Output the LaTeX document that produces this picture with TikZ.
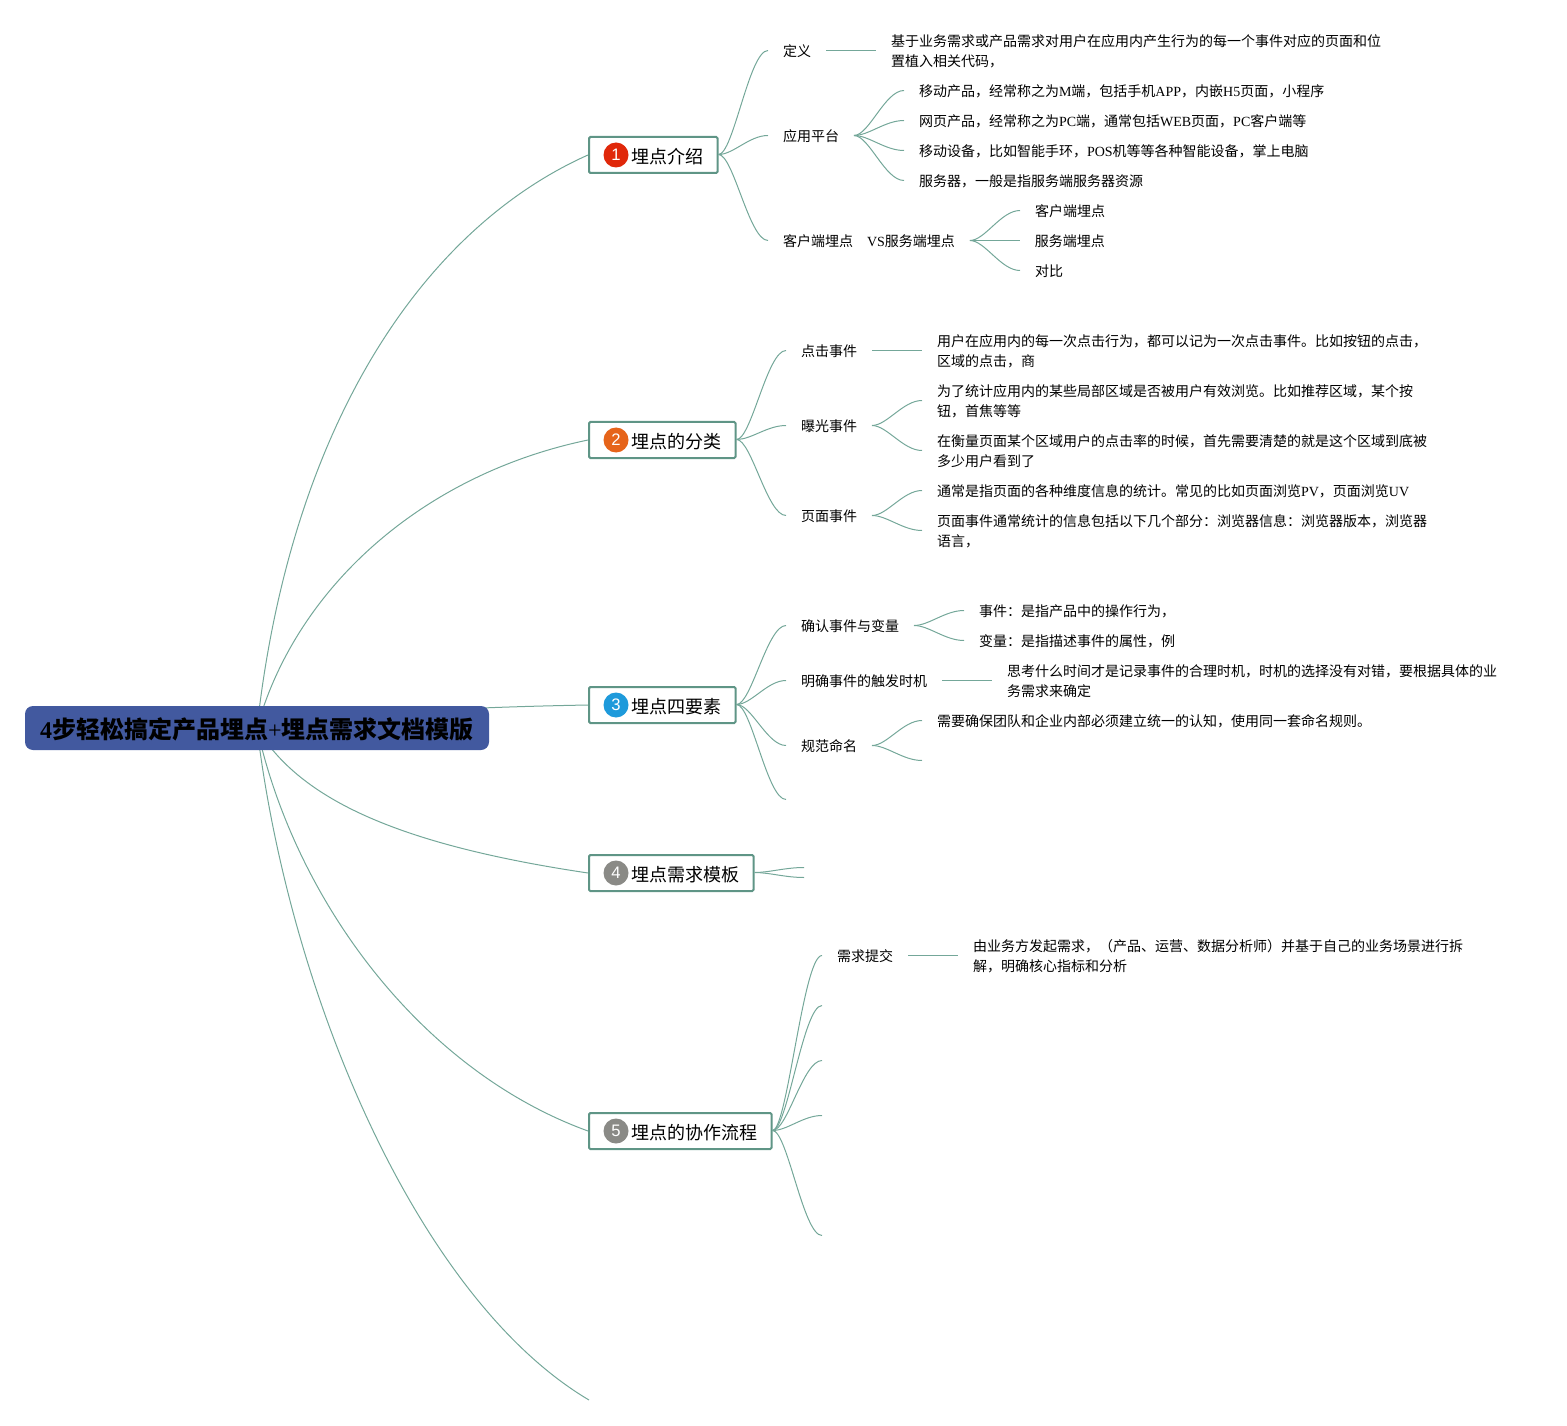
\documentclass[tikz,border=0pt]{standalone}
\usepackage{fontspec}
\setmainfont{Noto Sans CJK SC}
\newfontfamily\latfont{Liberation Serif}
\newfontfamily\numfont{Liberation Sans}
\newcommand{\lat}[1]{{\latfont #1}}
\usetikzlibrary{calc, backgrounds, positioning}
\definecolor{cteal}{HTML}{5F9586}
\definecolor{cline}{HTML}{74A799}
\definecolor{croot}{HTML}{42599F}
\definecolor{cred}{HTML}{E0280A}
\definecolor{corange}{HTML}{E6641A}
\definecolor{cblue}{HTML}{1E9ADB}
\definecolor{cgrey}{HTML}{8A8A86}
\tikzset{
  root/.style={fill=croot, rounded corners=6pt, minimum width=348pt, minimum height=33pt, inner sep=0pt, text height=18.2pt, text depth=2.2pt, font=\fontsize{18}{20}\selectfont\bfseries},
  branch/.style={draw=cteal, fill=white, line width=1.5pt, rounded corners=1pt, anchor=west, inner xsep=10.9pt, inner ysep=0pt, minimum height=27pt, text height=14.7pt, text depth=2.2pt, font=\fontsize{13.5}{16}\selectfont},
  badge/.style={circle, fill=#1, text=white, inner sep=0pt, minimum size=18.75pt, font=\numfont\fontsize{12.5}{14}\selectfont},
  topic/.style={anchor=west, align=left, inner xsep=11.25pt, inner ysep=0pt, outer sep=0pt, font=\fontsize{10.5}{15}\selectfont},
  link/.style={draw=cline, line width=0.75pt},
}
% fan out from a parent's east side to a child's west side
\newcommand{\linkto}[2]{\draw[link] let \p1=([yshift=.375pt]#1), \p2=([yshift=.375pt]#2) in (\p1) .. controls ({\x1+.3*(\x2-\x1)},\y1) and ({\x1+.62*(\x2-\x1)},\y2) .. (\p2);}
\begin{document}
\begin{tikzpicture}[x=0.75pt, y=-0.75pt, node distance=37.5pt]
  \useasboundingbox (0,0) rectangle (1567,1426);
  \node[root] (title) at (257,728) {\lat{4}步轻松搞定产品埋点\lat{\mdseries+}埋点需求文档模版};

  % step boxes
  \node[branch] (intro) at (588,155) {\hspace*{20.6pt}埋点介绍};
  \node[branch] (kinds) at (588,440) {\hspace*{20.6pt}埋点的分类};
  \node[branch] (parts) at (588,705) {\hspace*{20.6pt}埋点四要素};
  \node[branch] (form) at (588,873) {\hspace*{20.6pt}埋点需求模板};
  \node[branch] (flow) at (588,1131) {\hspace*{20.6pt}埋点的协作流程};
  \coordinate (last) at (589,1400);
  \node[badge=cred] (introno) at (616,155) {1};
  \node[badge=corange] (kindsno) at (616,440) {2};
  \node[badge=cblue] (partsno) at (616,705) {3};
  \node[badge=cgrey] (formno) at (616,873) {4};
  \node[badge=cgrey] (flowno) at (616,1131) {5};

  % intro
  \node[topic] (defn) at (768,51) {定义};
  \node[topic, right=of defn] (defntxt) {基于业务需求或产品需求对用户在应用内产生行为的每一个事件对应的页面和位\\置植入相关代码，};
  \node[topic] (plat) at (768,136) {应用平台};
  \node[topic] (plata) at (904,91) {移动产品，经常称之为\lat{M}端，包括手机\lat{APP}，内嵌\lat{H5}页面，小程序};
  \node[topic] (platb) at (904,121) {网页产品，经常称之为\lat{PC}端，通常包括\lat{WEB}页面，\lat{PC}客户端等};
  \node[topic] (platc) at (904,151) {移动设备，比如智能手环，\lat{POS}机等等各种智能设备，掌上电脑};
  \node[topic] (platd) at (904,181) {服务器，一般是指服务端服务器资源};
  \node[topic] (side) at (768,241) {客户端埋点　\lat{VS}服务端埋点};
  \node[topic] (sidea) at (1020,211) {客户端埋点};
  \node[topic, right=of side] (sideb) {服务端埋点};
  \node[topic] (sidec) at (1020,271) {对比};

  % kinds
  \node[topic] (click) at (786,351) {点击事件};
  \node[topic, right=of click] (clicktxt) {用户在应用内的每一次点击行为，都可以记为一次点击事件。比如按钮的点击，\\区域的点击，商};
  \node[topic] (show) at (786,426) {曝光事件};
  \node[topic] (showa) at (922,401) {为了统计应用内的某些局部区域是否被用户有效浏览。比如推荐区域，某个按\\钮，首焦等等};
  \node[topic] (showb) at (922,451) {在衡量页面某个区域用户的点击率的时候，首先需要清楚的就是这个区域到底被\\多少用户看到了};
  \node[topic] (page) at (786,516) {页面事件};
  \node[topic] (pagea) at (922,491) {通常是指页面的各种维度信息的统计。常见的比如页面浏览\lat{PV}，页面浏览\lat{UV}};
  \node[topic] (pageb) at (922,531) {页面事件通常统计的信息包括以下几个部分：浏览器信息：浏览器版本，浏览器\\语言，};

  % parts
  \node[topic] (event) at (786,626) {确认事件与变量};
  \node[topic] (eventa) at (964,611) {事件：是指产品中的操作行为，};
  \node[topic] (eventb) at (964,641) {变量：是指描述事件的属性，例};
  \node[topic] (when) at (786,681) {明确事件的触发时机};
  \node[topic, right=of when] (whentxt) {思考什么时间才是记录事件的合理时机，时机的选择没有对错，要根据具体的业\\务需求来确定};
  \node[topic] (name) at (786,746) {规范命名};
  \node[topic] (namea) at (922,721) {需要确保团队和企业内部必须建立统一的认知，使用同一套命名规则。};
  \coordinate (nameb) at (922,761);
  \coordinate (partsend) at (786,800);

  % form
  \coordinate (forma) at (804,868);
  \coordinate (formb) at (804,878);

  % flow
  \node[topic] (ask) at (822,956) {需求提交};
  \node[topic, right=of ask] (asktxt) {由业务方发起需求，（产品、运营、数据分析师）并基于自己的业务场景进行拆\\解，明确核心指标和分析};
  \coordinate (flowb) at (822,1006);
  \coordinate (flowc) at (822,1061);
  \coordinate (flowd) at (822,1116);
  \coordinate (flowe) at (822,1236);

  \begin{scope}[on background layer]
    \draw[link] (title.center) .. controls (290,430) and (420,230) .. (intro.west);
    \draw[link] (title.center) .. controls (295,590) and (420,475) .. (kinds.west);
    \draw[link] (title.center) .. controls (350,712) and (480,707) .. (parts.west);
    \draw[link] (title.center) .. controls (300,800) and (400,845) .. (form.west);
    \draw[link] (title.center) .. controls (295,900) and (420,1070) .. (flow.west);
    \draw[link] (title.center) .. controls (290,1000) and (420,1300) .. (last);
  \end{scope}

  \foreach \from/\to in {intro/defn, intro/plat, intro/side, kinds/click, kinds/show, kinds/page, parts/event, parts/when, parts/name, form/forma, form/formb, flow/ask}
    \linkto{\from.east}{\to.west};
  \foreach \from/\to in {defn/defntxt, plat/plata, plat/platb, plat/platc, plat/platd, side/sidea, side/sideb, side/sidec, click/clicktxt, show/showa, show/showb, page/pagea, page/pageb, event/eventa, event/eventb, when/whentxt, name/namea, ask/asktxt}
    \linkto{\from.east}{\to.west};
  \linkto{parts.east}{partsend}
  \linkto{name.east}{nameb}
  \linkto{flow.east}{flowb}
  \linkto{flow.east}{flowc}
  \linkto{flow.east}{flowd}
  \linkto{flow.east}{flowe}
\end{tikzpicture}
\end{document}
